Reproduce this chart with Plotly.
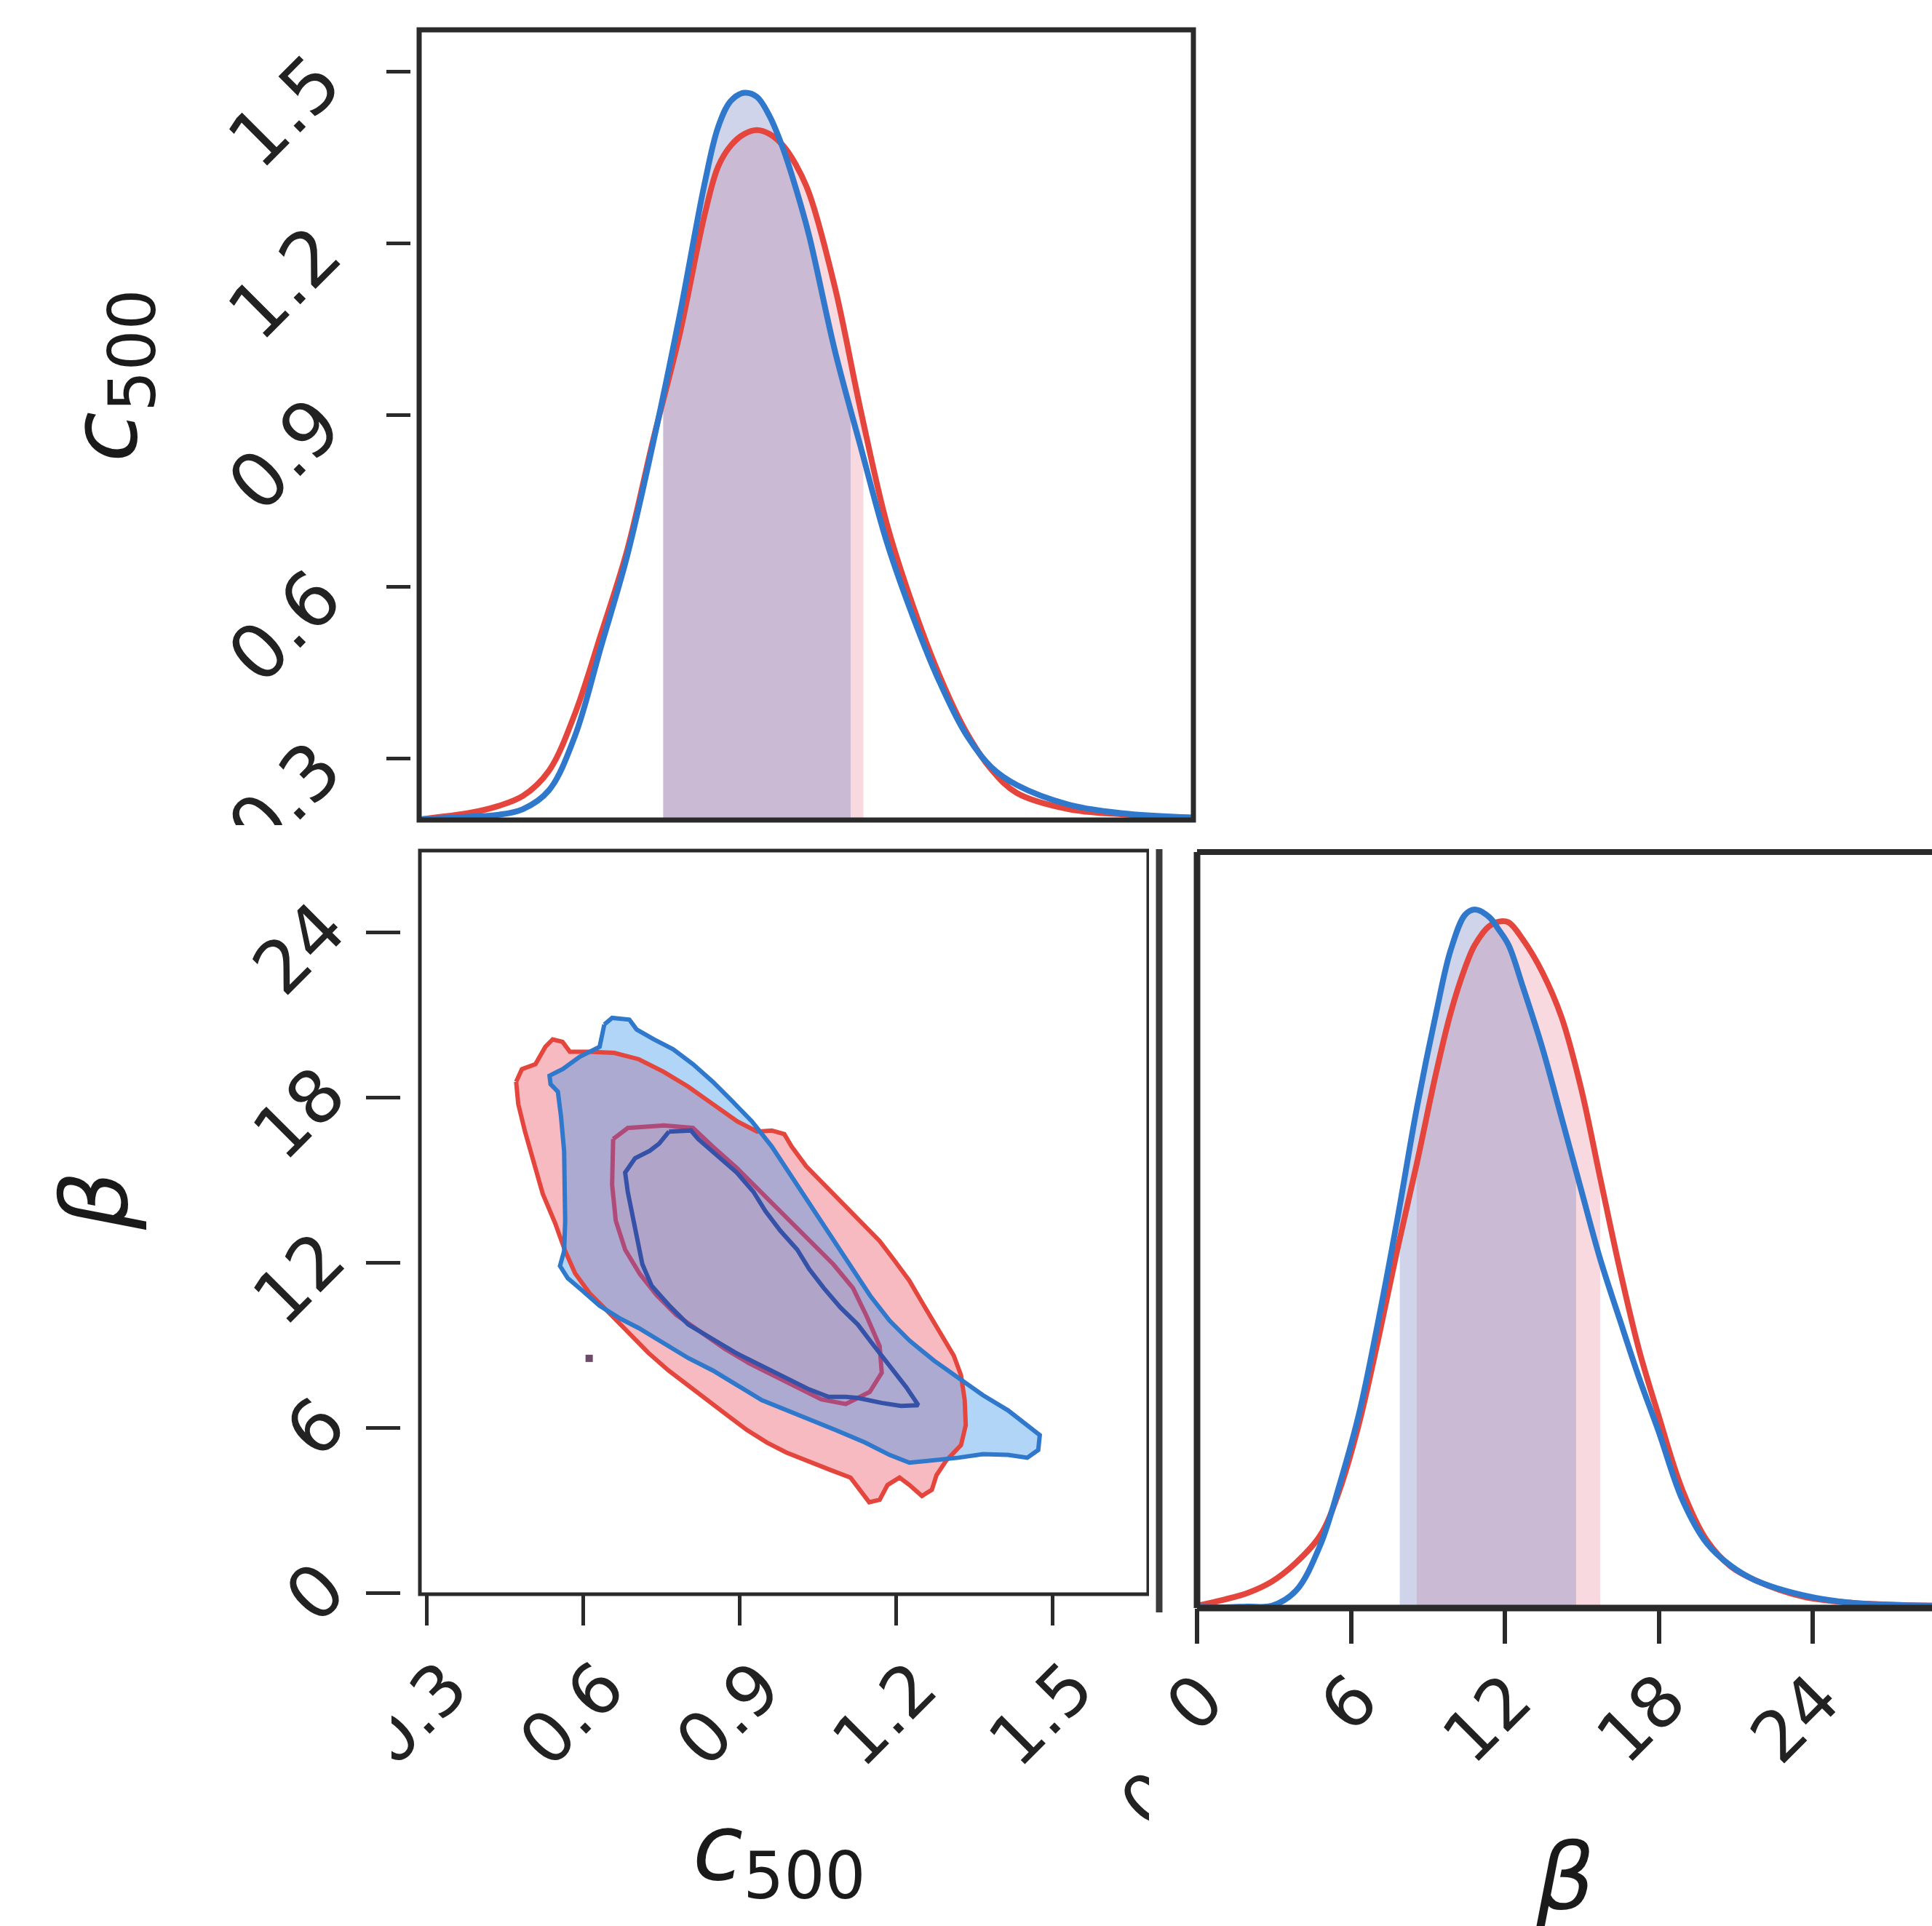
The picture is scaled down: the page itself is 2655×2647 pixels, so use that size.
import numpy as np
import plotly.graph_objects as go

W, H = 2655, 2647

# ---------------- marginal of c500 (upper panel) ----------------
c500_grid = [0.288, 0.382, 0.429, 0.475, 0.522, 0.569, 0.616, 0.663, 0.710, 0.757,
             0.803, 0.827, 0.850, 0.874, 0.897, 0.920, 0.944, 0.967, 0.991, 1.038,
             1.084, 1.131, 1.178, 1.225, 1.272, 1.319, 1.366, 1.459, 1.553, 1.684]
c500_blue = [0.194, 0.199, 0.202, 0.212, 0.245, 0.340, 0.496, 0.654, 0.852, 1.071,
             1.306, 1.403, 1.449, 1.463, 1.456, 1.422, 1.366, 1.297, 1.214, 1.011,
             0.845, 0.679, 0.549, 0.437, 0.346, 0.286, 0.254, 0.220, 0.205, 0.197]
c500_red = [0.194, 0.206, 0.217, 0.235, 0.279, 0.379, 0.518, 0.664, 0.857, 1.038,
            1.251, 1.334, 1.371, 1.391, 1.398, 1.391, 1.371, 1.338, 1.288, 1.122,
            0.909, 0.711, 0.568, 0.448, 0.351, 0.282, 0.240, 0.212, 0.203, 0.197]
c500_interval_blue = [0.728, 1.066]
c500_interval_red = [0.728, 1.089]

# ---------------- marginal of beta (right panel) ----------------
beta_grid = [0.0, 1.035, 1.976, 2.917, 3.858, 4.799, 5.552, 6.305, 7.058, 7.810,
             8.563, 9.316, 9.881, 10.445, 10.822, 11.386, 11.763, 12.139, 12.704, 13.456,
             14.209, 14.962, 15.715, 16.468, 17.220, 17.973, 18.914, 19.855, 20.796, 21.737,
             23.619, 25.501, 28.663]
beta_blue = [0.002, 0.001, 0.002, 0.003, 0.023, 0.083, 0.163, 0.256, 0.379, 0.515,
             0.661, 0.787, 0.870, 0.917, 0.924, 0.914, 0.897, 0.877, 0.821, 0.741,
             0.648, 0.554, 0.461, 0.382, 0.305, 0.235, 0.143, 0.086, 0.056, 0.037,
             0.017, 0.007, 0.003]
beta_red = [0.003, 0.011, 0.020, 0.035, 0.060, 0.096, 0.156, 0.243, 0.355, 0.475,
            0.588, 0.708, 0.787, 0.847, 0.877, 0.902, 0.908, 0.907, 0.884, 0.841,
            0.781, 0.688, 0.568, 0.449, 0.342, 0.256, 0.156, 0.090, 0.055, 0.037,
            0.015, 0.007, 0.003]
beta_interval_blue = [7.90, 14.77]
beta_interval_red = [8.56, 15.71]

# ---------------- joint c500 - beta contours ----------------
red_outer_c = [0.472, 0.483, 0.509, 0.528, 0.542, 0.561, 0.575, 0.613, 0.660, 0.707,
               0.755, 0.802, 0.849, 0.896, 0.934, 0.962, 0.986, 1.000, 1.028, 1.066,
               1.103, 1.141, 1.169, 1.198, 1.226, 1.254, 1.283, 1.311, 1.325, 1.332,
               1.334, 1.325, 1.297, 1.278, 1.269, 1.250, 1.226, 1.207, 1.184, 1.169,
               1.149, 1.132, 1.113, 1.075, 1.037, 0.990, 0.953, 0.915, 0.877, 0.839,
               0.802, 0.764, 0.726, 0.689, 0.651, 0.613, 0.585, 0.566, 0.547, 0.523,
               0.505, 0.489, 0.476]
red_outer_beta = [18.57, 19.03, 19.21, 19.84, 20.11, 20.02, 19.66, 19.66, 19.62, 19.39,
                  18.93, 18.39, 17.76, 17.13, 16.76, 16.80, 16.67, 16.22, 15.50, 14.77,
                  14.05, 13.33, 12.78, 12.06, 11.34, 10.43, 9.53, 8.62, 7.90, 7.00,
                  6.09, 5.37, 4.82, 4.28, 3.74, 3.52, 3.92, 4.19, 3.92, 3.38,
                  3.29, 3.74, 4.19, 4.46, 4.73, 5.10, 5.46, 5.91, 6.45, 7.00,
                  7.54, 8.08, 8.71, 9.44, 10.16, 10.88, 11.61, 12.42, 13.42, 14.50,
                  15.68, 16.76, 17.76]

blue_outer_c = [0.641, 0.656, 0.689, 0.703, 0.736, 0.773, 0.811, 0.849, 0.887, 0.924,
                0.962, 1.000, 1.037, 1.075, 1.113, 1.151, 1.188, 1.226, 1.273, 1.320,
                1.367, 1.415, 1.452, 1.476, 1.473, 1.452, 1.415, 1.367, 1.320, 1.273,
                1.226, 1.188, 1.141, 1.085, 1.037, 0.990, 0.943, 0.896, 0.849, 0.802,
                0.755, 0.707, 0.670, 0.632, 0.599, 0.571, 0.556, 0.564, 0.566, 0.566,
                0.564, 0.558, 0.552, 0.538, 0.536, 0.561, 0.594, 0.632]
blue_outer_beta = [20.65, 20.89, 20.83, 20.47, 20.11, 19.75, 19.21, 18.57, 17.85, 17.13,
                   16.22, 15.14, 14.05, 12.96, 11.88, 10.79, 9.89, 9.17, 8.44, 7.81,
                   7.18, 6.63, 6.09, 5.73, 5.19, 4.91, 5.01, 5.04, 4.91, 4.82,
                   4.73, 5.01, 5.46, 5.91, 6.27, 6.63, 7.00, 7.54, 8.08, 8.53,
                   9.08, 9.62, 9.98, 10.43, 10.98, 11.43, 11.88, 12.42, 13.51, 14.77,
                   16.04, 17.31, 18.21, 18.48, 18.79, 19.03, 19.48, 19.84]

red_inner_c = [0.658, 0.686, 0.756, 0.811, 0.848, 0.895, 0.932, 0.978, 1.034, 1.080,
               1.118, 1.145, 1.169, 1.173, 1.150, 1.104, 1.057, 1.011, 0.964, 0.918,
               0.872, 0.825, 0.779, 0.742, 0.709, 0.681, 0.663, 0.656, 0.656]
red_inner_beta = [16.49, 16.89, 16.98, 16.89, 16.23, 15.44, 14.74, 13.87, 12.81, 11.94,
                  11.07, 10.01, 8.96, 8.00, 7.30, 6.86, 7.03, 7.47, 7.91, 8.35,
                  8.87, 9.49, 10.10, 10.80, 11.59, 12.47, 13.52, 14.83, 15.88]

blue_inner_c = [0.765, 0.807, 0.821, 0.858, 0.895, 0.927, 0.950, 0.978, 1.011, 1.034,
                1.062, 1.094, 1.127, 1.155, 1.187, 1.220, 1.243, 1.210, 1.173, 1.127,
                1.104, 1.071, 1.034, 0.988, 0.941, 0.895, 0.848, 0.802, 0.765, 0.732,
                0.714, 0.705, 0.695, 0.686, 0.681, 0.700, 0.728, 0.746]
blue_inner_beta = [16.76, 16.80, 16.49, 15.88, 15.27, 14.57, 13.87, 13.17, 12.47, 11.76,
                   11.07, 10.36, 9.75, 9.05, 8.26, 7.47, 6.82, 6.79, 6.90, 7.08,
                   7.12, 7.12, 7.39, 7.82, 8.26, 8.70, 9.23, 9.75, 10.45, 11.15,
                   11.94, 12.81, 13.69, 14.57, 15.27, 15.79, 16.06, 16.32]

stray_c = [0.612]
stray_beta = [8.52]

c500_ticks = [0.3, 0.6, 0.9, 1.2, 1.5]
c500_ticktext = ["0.3", "0.6", "0.9", "1.2", "1.5"]
beta_ticks = [0, 6, 12, 18, 24]
beta_ticktext = ["0", "6", "12", "18", "24"]

# ---------------- styling ----------------
RED = "#e4463d"
BLUE = "#2f78cc"
RED_FILL = "rgba(235, 90, 105, 0.42)"
BLUE_FILL = "rgba(50, 145, 235, 0.38)"
RED_FILL_IN = "rgba(235, 90, 105, 0.07)"
RED_BAND = "rgba(228, 130, 150, 0.30)"
BLUE_BAND = "rgba(110, 120, 190, 0.32)"
FRAME = "#2a2a2a"
FONT = "DejaVu Sans"
TICK_SIZE = 96
LABEL_SIZE = 126


def px(x):
    return x / W


def py(y):
    return 1 - y / H


fig = go.Figure()


def band(grid, vals, lo, hi, color, xa, ya):
    g = np.asarray(grid)
    v = np.asarray(vals)
    inside = (g > lo) & (g < hi)
    bx = np.concatenate([[lo], g[inside], [hi]])
    by = np.concatenate([[np.interp(lo, g, v)], v[inside], [np.interp(hi, g, v)]])
    fig.add_trace(go.Scatter(x=bx, y=by, mode="lines", fill="tozeroy",
                             fillcolor=color, line=dict(width=0, shape="spline"),
                             xaxis=xa, yaxis=ya, hoverinfo="skip", showlegend=False))


def curve(grid, vals, color, xa, ya):
    fig.add_trace(go.Scatter(x=grid, y=vals, mode="lines",
                             line=dict(color=color, width=8, shape="spline", smoothing=1.0),
                             xaxis=xa, yaxis=ya, showlegend=False))


# upper panel: c500 marginal
band(c500_grid, c500_red, *c500_interval_red, RED_BAND, "x", "y")
band(c500_grid, c500_blue, *c500_interval_blue, BLUE_BAND, "x", "y")
curve(c500_grid, c500_red, RED, "x", "y")
curve(c500_grid, c500_blue, BLUE, "x", "y")


# lower-left panel: joint contours
def region(cx, by, fillcol, xa="x2", ya="y2"):
    fig.add_trace(go.Scatter(x=cx + cx[:1], y=by + by[:1], mode="lines", fill="toself",
                             fillcolor=fillcol, line=dict(width=0),
                             xaxis=xa, yaxis=ya, hoverinfo="skip", showlegend=False))


def outline(cx, by, color, xa="x2", ya="y2"):
    fig.add_trace(go.Scatter(x=cx + cx[:1], y=by + by[:1], mode="lines",
                             line=dict(color=color, width=6),
                             xaxis=xa, yaxis=ya, showlegend=False))


region(red_outer_c, red_outer_beta, RED_FILL)
region(blue_outer_c, blue_outer_beta, BLUE_FILL)
region(red_inner_c, red_inner_beta, RED_FILL_IN)
outline(red_outer_c, red_outer_beta, RED)
outline(red_inner_c, red_inner_beta, "#b04a78")
outline(blue_outer_c, blue_outer_beta, BLUE)
outline(blue_inner_c, blue_inner_beta, "#3552a8")
fig.add_trace(go.Scatter(x=stray_c, y=stray_beta, mode="markers",
                         marker=dict(symbol="square", size=10, color="#6d4a68"),
                         xaxis="x2", yaxis="y2", showlegend=False))

# right panel: beta marginal
band(beta_grid, beta_red, *beta_interval_red, RED_BAND, "x3", "y3")
band(beta_grid, beta_blue, *beta_interval_blue, BLUE_BAND, "x3", "y3")
curve(beta_grid, beta_red, RED, "x3", "y3")
curve(beta_grid, beta_blue, BLUE, "x3", "y3")

# empty trace so the clipped neighbouring tick label axis gets drawn
fig.add_trace(go.Scatter(x=[], y=[], xaxis="x4", yaxis="y2", showlegend=False))

tickfont = dict(family=FONT, size=TICK_SIZE, color="#222222")
tickfont_top = dict(family=FONT, size=104, color="#222222")
tickfont_left = dict(family=FONT, size=100, color="#222222")
common = dict(showgrid=False, zeroline=False, showline=False, automargin=False)

fig.update_layout(
    width=W, height=H, autosize=False,
    margin=dict(l=0, r=0, t=0, b=0, pad=0),
    paper_bgcolor="white", plot_bgcolor="white",
    showlegend=False,
    xaxis=dict(domain=[px(576), px(1640)], range=[0.288, 1.684], visible=False,
               anchor="y", **common),
    yaxis=dict(domain=[py(1127), py(41)], range=[0.193, 1.573], anchor="free",
               position=px(564), tickvals=c500_ticks, ticktext=c500_ticktext,
               ticks="outside", ticklen=33, tickwidth=5, tickcolor=FRAME,
               tickangle=-45, tickfont=tickfont_top,
               ticklabelstandoff=72, ticklabelshift=0, **common),
    xaxis2=dict(domain=[px(577), px(1578)], range=[0.2874, 1.684], anchor="y2",
                tickvals=c500_ticks, ticktext=c500_ticktext,
                ticks="outside", ticklen=42, tickwidth=5, tickcolor=FRAME,
                tickangle=-45, tickfont=tickfont, ticklabelshift=28,
                ticklabelstandoff=-10, **common),
    yaxis2=dict(domain=[py(2191), py(1169)], range=[-0.05, 26.97], anchor="free",
                position=px(550), tickvals=beta_ticks, ticktext=beta_ticktext,
                ticks="outside", ticklen=47, tickwidth=5, tickcolor=FRAME,
                tickangle=-45, tickfont=tickfont_left,
                ticklabelstandoff=38, ticklabelshift=-19, **common),
    xaxis3=dict(domain=[px(1645), 1.0], range=[0, 28.64], anchor="y3",
                tickvals=beta_ticks, ticktext=beta_ticktext,
                ticks="outside", ticklen=48, tickwidth=6, tickcolor=FRAME,
                tickangle=-45, tickfont=tickfont, ticklabelshift=8,
                ticklabelstandoff=-18, **common),
    yaxis3=dict(domain=[py(2210), py(1171)], range=[0, 1.0], visible=False,
                anchor="x3", **common),
    xaxis4=dict(domain=[px(1540), px(1640)], range=[1540, 1640], anchor="free",
                position=py(2392), tickvals=[1562], ticktext=["0"], ticks="",
                tickangle=-45, tickfont=tickfont, ticklabelshift=28, **common),
)

shapes = [
    # panel frames
    dict(type="rect", xref="x domain", yref="y domain", x0=0, x1=1, y0=0, y1=1,
         line=dict(color=FRAME, width=7), layer="above"),
    dict(type="rect", xref="x2 domain", yref="y2 domain", x0=0, x1=1, y0=0, y1=1,
         line=dict(color=FRAME, width=5), layer="above"),
    dict(type="line", xref="x3 domain", yref="y3 domain", x0=0, x1=0, y0=0, y1=1,
         line=dict(color=FRAME, width=9), layer="above"),
    dict(type="line", xref="x3 domain", yref="y3 domain", x0=0, x1=1.02, y0=1, y1=1,
         line=dict(color=FRAME, width=8), layer="above"),
    dict(type="line", xref="x3 domain", yref="y3 domain", x0=0, x1=1.02, y0=0, y1=0,
         line=dict(color=FRAME, width=9), layer="above"),
    # separator rule between the lower panels
    dict(type="line", xref="paper", yref="paper", x0=px(1593), x1=px(1593),
         y0=py(2216), y1=py(1167), line=dict(color="#3c3c3c", width=9), layer="above"),
    # white gutters between the panel tiles
    dict(type="rect", xref="paper", yref="paper", x0=0, x1=px(570), y0=py(1166), y1=py(1134),
         fillcolor="white", line=dict(width=0), layer="above"),
    dict(type="rect", xref="paper", yref="paper", x0=0, x1=px(538), y0=0, y1=py(2262),
         fillcolor="white", line=dict(width=0), layer="above"),
    dict(type="rect", xref="paper", yref="paper", x0=px(1579), x1=px(1588), y0=0, y1=py(1132),
         fillcolor="white", line=dict(width=0), layer="above"),
    dict(type="rect", xref="paper", yref="paper", x0=px(1579), x1=px(1640), y0=0, y1=py(2385),
         fillcolor="white", line=dict(width=0), layer="above"),
]
fig.update_layout(shapes=shapes)

labfont = dict(family=FONT, size=LABEL_SIZE, color="#1a1a1a")
annotations = [
    dict(text="<i>c</i><sub>500</sub>", x=px(152), y=py(516), xref="paper", yref="paper",
         textangle=-90, showarrow=False, font=labfont, xanchor="center", yanchor="middle"),
    dict(text="<i>β</i>", x=px(131), y=py(1651), xref="paper", yref="paper",
         textangle=-90, showarrow=False, font=labfont, xanchor="center", yanchor="middle"),
    dict(text="<i>c</i><sub>500</sub>", x=px(1071), y=py(2548), xref="paper", yref="paper",
         showarrow=False, font=labfont, xanchor="center", yanchor="middle"),
    dict(text="<i>β</i>", x=px(2150), y=py(2505), xref="paper", yref="paper",
         showarrow=False, font=labfont, xanchor="center", yanchor="top"),
]
fig.update_layout(annotations=annotations)

fig.write_html("out.html", config={"displayModeBar": False})
